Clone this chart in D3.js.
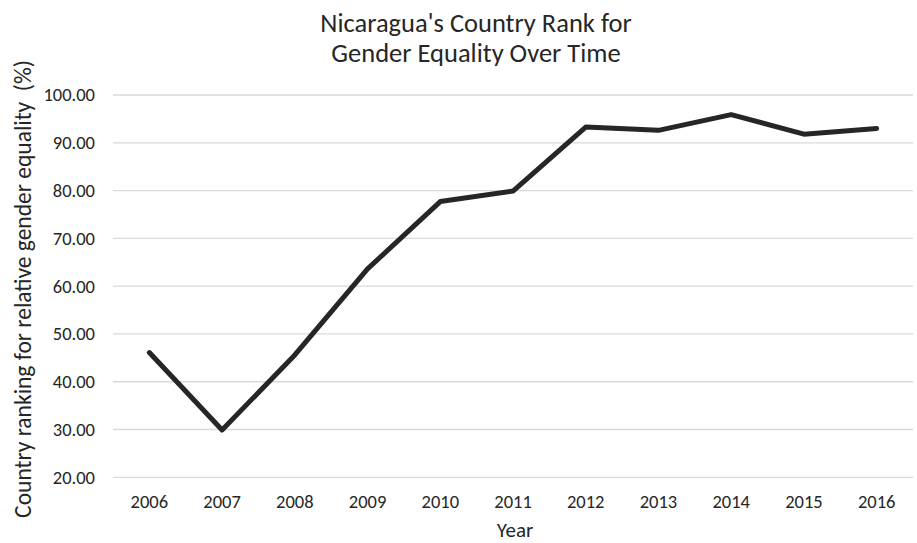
<!DOCTYPE html>
<html>
<head>
<meta charset="utf-8">
<script src="https://cdn.jsdelivr.net/npm/d3@7"></script>
<style>
  html, body { margin: 0; padding: 0; background: #fff; }
  svg { display: block; font-family: Carlito, Lato, "Open Sans", sans-serif; }
</style>
</head>
<body>
<svg id="chart" width="917" height="543"></svg>
<script>
const years = ["2006","2007","2008","2009","2010","2011","2012","2013","2014","2015","2016"];
const values = [46.1, 29.9, 45.6, 63.6, 77.7, 79.9, 93.3, 92.6, 95.9, 91.8, 93.0];
const yTicks = [20, 30, 40, 50, 60, 70, 80, 90, 100];
const titleLines = ["Nicaragua's Country Rank for", "Gender Equality Over Time"];
const xTitle = "Year";
const yTitle = "Country ranking for relative gender equality  (%)";

const svg = d3.select("#chart");
const plotLeft = 113, plotRight = 913, plotTop = 95, plotBottom = 477.3;
const fontStack = "Carlito, Lato, 'Open Sans', sans-serif";
const textColor = "#262626";

const x = d3.scaleBand().domain(years).range([plotLeft, plotRight]);
const y = d3.scaleLinear().domain([20, 100]).range([plotBottom, plotTop]);

// gridlines
svg.append("g").selectAll("line").data(yTicks).join("line")
  .attr("x1", plotLeft).attr("x2", plotRight)
  .attr("y1", d => y(d)).attr("y2", d => y(d))
  .attr("stroke", "#d9d9d9").attr("stroke-width", 1.3);

// y axis labels
const yAxis = svg.append("g").attr("transform", `translate(${plotLeft - 18},0)`)
  .call(d3.axisLeft(y).tickValues(yTicks).tickFormat(d3.format(".2f")).tickSize(0).tickPadding(0));
yAxis.select(".domain").remove();
yAxis.selectAll("text").attr("font-size", 18.5).attr("fill", textColor)
  .attr("font-family", fontStack);

// x axis labels
const xAxis = svg.append("g").attr("transform", `translate(0,${plotBottom + 18})`)
  .call(d3.axisBottom(x).tickSize(0).tickPadding(0));
xAxis.select(".domain").remove();
xAxis.selectAll("text").attr("font-size", 18.5).attr("fill", textColor)
  .attr("font-family", fontStack);

// line
const line = d3.line()
  .x((d, i) => x(years[i]) + x.bandwidth() / 2)
  .y(d => y(d));
svg.append("path").datum(values)
  .attr("d", line)
  .attr("fill", "none")
  .attr("stroke", "#262626")
  .attr("stroke-width", 5)
  .attr("stroke-linejoin", "round")
  .attr("stroke-linecap", "round");

// title
svg.append("text").attr("text-anchor", "middle")
  .attr("font-size", 26.5).attr("fill", textColor)
  .selectAll("tspan").data(titleLines).join("tspan")
  .attr("x", 476).attr("y", (d, i) => 32 + i * 30).text(d => d);

// x title
svg.append("text").attr("x", 515).attr("y", 537).attr("text-anchor", "middle")
  .attr("font-size", 21).attr("fill", textColor).text(xTitle);

// y title
svg.append("text")
  .attr("transform", `translate(31,289) rotate(-90)`)
  .attr("text-anchor", "middle")
  .style("white-space", "pre")
  .attr("font-size", 23.5).attr("fill", textColor).text(yTitle);
</script>
</body>
</html>
